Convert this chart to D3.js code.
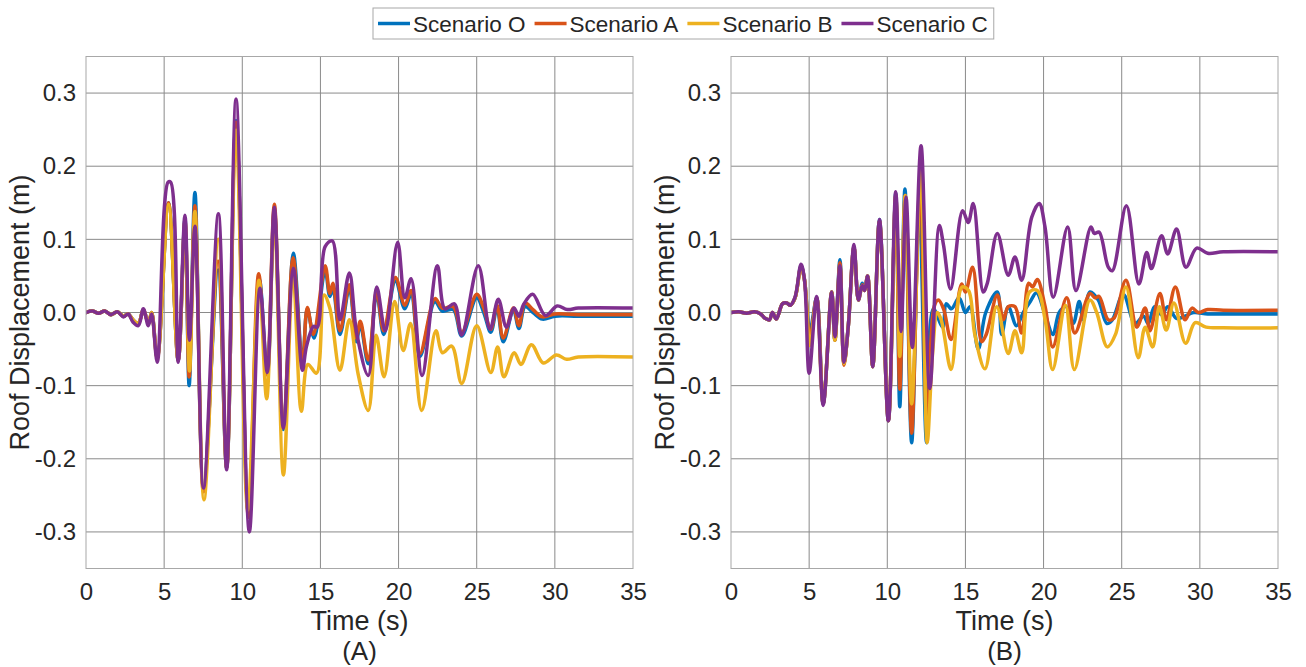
<!DOCTYPE html>
<html>
<head>
<meta charset="utf-8">
<script src="https://cdn.jsdelivr.net/npm/d3@7"></script>
<style>
  html, body { margin: 0; padding: 0; background: #ffffff; }
  svg { display: block; }
  text { font-family: "Liberation Sans", Arial, Helvetica, sans-serif; fill: #262626; }
</style>
</head>
<body>
<svg id="chart" width="1306" height="667"></svg>
<script>
// ---------- DATA (time s, roof displacement m) ----------
const seriesNames = ["Scenario O", "Scenario A", "Scenario B", "Scenario C"];
const seriesColors = ["#0072BD", "#D95319", "#EDB120", "#7E2F8E"];
const panelLabels = ["(A)", "(B)"];
const xTicks = [0, 5, 10, 15, 20, 25, 30, 35];
const yTicks = [-0.3, -0.2, -0.1, 0.0, 0.1, 0.2, 0.3];
const yTickLabels = ["-0.3", "-0.2", "-0.1", "0.0", "0.1", "0.2", "0.3"];

// Panel (A)
const panelA_O = [[0,0],[0.4,0.002],[0.8,-0.001],[1.2,0.002],[1.6,-0.003],[2.0,0.001],[2.4,-0.005],[2.7,-0.002],[3.0,-0.01],[3.35,-0.015],[3.67,0.004],[3.99,-0.015],[4.2,0.0],[4.56,-0.062],[5.28,0.15],[5.9,-0.066],[6.33,0.128],[6.6,-0.1],[6.97,0.164],[7.52,-0.24],[8.45,0.058],[9.0,-0.212],[9.6,0.262],[10.4,-0.275],[11.1,0.045],[11.6,-0.085],[12.05,0.14],[12.63,-0.16],[13.27,0.081],[13.85,-0.07],[14.16,0.005],[14.6,-0.035],[15.3,0.058],[15.6,0.022],[15.8,0.033],[16.25,-0.03],[16.85,0.033],[17.3,-0.04],[17.55,-0.016],[18.06,-0.07],[18.6,0.026],[19.05,-0.03],[19.8,0.043],[20.4,0.005],[20.8,0.025],[21.37,-0.06],[22.33,0.015],[22.8,0.002],[23.5,0.004],[24.04,-0.032],[25.0,0.02],[25.45,0.0],[25.9,-0.027],[26.3,0.006],[26.7,-0.04],[27.35,0.003],[27.7,-0.022],[28.1,0.008],[28.6,0.0],[29.2,-0.009],[30.0,-0.005],[31.5,-0.005],[35,-0.005]];
const panelA_A = [[0,0],[0.4,0.002],[0.8,-0.001],[1.2,0.002],[1.6,-0.003],[2.0,0.001],[2.4,-0.005],[2.7,-0.002],[3.0,-0.01],[3.35,-0.015],[3.67,0.004],[3.99,-0.015],[4.2,0.0],[4.56,-0.062],[5.28,0.15],[5.9,-0.066],[6.33,0.125],[6.6,-0.088],[6.97,0.146],[7.52,-0.245],[8.45,0.07],[9.0,-0.212],[9.6,0.26],[10.4,-0.28],[11.05,0.053],[11.58,-0.085],[12.05,0.148],[12.63,-0.157],[13.25,0.075],[13.85,-0.073],[14.16,0.007],[14.55,-0.03],[15.3,0.064],[15.6,0.026],[15.8,0.04],[16.25,-0.025],[16.85,0.038],[17.3,-0.035],[17.55,-0.012],[18.06,-0.065],[18.6,0.03],[19.05,-0.025],[19.8,0.048],[20.4,0.01],[20.8,0.03],[21.37,-0.056],[22.33,0.019],[22.8,0.006],[23.5,0.008],[24.04,-0.027],[25.0,0.025],[25.45,0.006],[25.9,-0.023],[26.3,0.01],[26.7,-0.035],[27.35,0.006],[27.7,-0.018],[28.1,0.013],[28.6,0.004],[29.2,-0.006],[30.0,-0.002],[31.5,-0.003],[35,-0.003]];
const panelA_B = [[0,0],[0.4,0.002],[0.8,-0.001],[1.2,0.002],[1.6,-0.003],[2.0,0.001],[2.4,-0.005],[2.7,-0.002],[3.0,-0.01],[3.35,-0.015],[3.67,0.004],[3.99,-0.015],[4.2,0.0],[4.56,-0.064],[5.28,0.148],[5.9,-0.066],[6.33,0.125],[6.62,-0.08],[6.97,0.138],[7.55,-0.256],[8.47,0.1],[9.0,-0.212],[9.6,0.249],[10.35,-0.27],[11.07,0.044],[11.56,-0.118],[12.05,0.13],[12.63,-0.222],[13.25,0.05],[13.78,-0.135],[14.2,-0.071],[14.75,-0.083],[15.23,0.024],[15.6,0.006],[16.25,-0.079],[16.85,-0.01],[17.42,-0.085],[18.06,-0.134],[18.56,-0.031],[19.07,-0.088],[19.75,0.015],[20.3,-0.052],[20.77,-0.015],[21.48,-0.134],[22.39,-0.025],[22.8,-0.055],[23.4,-0.046],[24.04,-0.097],[25.0,-0.018],[25.9,-0.082],[26.34,-0.047],[26.74,-0.088],[27.4,-0.055],[27.83,-0.071],[28.5,-0.044],[29.26,-0.069],[30.1,-0.058],[30.75,-0.064],[31.5,-0.061],[35,-0.061]];
const panelA_C = [[0,0],[0.4,0.002],[0.8,-0.001],[1.2,0.002],[1.6,-0.003],[2.0,0.001],[2.4,-0.006],[2.7,-0.002],[3.0,-0.013],[3.35,-0.018],[3.67,0.005],[3.99,-0.018],[4.2,-0.002],[4.56,-0.068],[5.25,0.178],[5.42,0.178],[5.9,-0.068],[6.33,0.133],[6.62,-0.038],[6.97,0.118],[7.52,-0.24],[8.47,0.135],[9.0,-0.215],[9.6,0.292],[10.45,-0.3],[11.13,0.033],[11.6,-0.082],[12.05,0.144],[12.63,-0.158],[13.27,0.06],[13.85,-0.079],[14.1,-0.047],[14.55,-0.019],[14.8,-0.02],[15.3,0.09],[15.76,0.098],[16.25,-0.01],[16.85,0.054],[17.32,-0.028],[18.06,-0.086],[18.6,0.035],[19.15,-0.025],[19.94,0.096],[20.4,0.02],[20.8,0.046],[21.5,-0.086],[22.48,0.064],[22.97,0.005],[23.57,0.012],[24.04,-0.031],[25.1,0.064],[25.85,-0.023],[26.38,0.018],[26.9,-0.02],[27.38,0.006],[27.7,-0.005],[28.0,0.011],[28.58,0.025],[29.4,-0.004],[30.15,0.009],[30.8,0.004],[31.5,0.006],[35,0.006]];

// Panel (B)
const panelB_O = [[0,0],[0.5,0.001],[1.0,-0.001],[1.5,0.001],[1.9,-0.002],[2.18,-0.008],[2.46,-0.01],[2.65,0.0],[2.9,-0.009],[3.3,0.012],[3.56,0.013],[3.8,0.01],[4.1,0.02],[4.48,0.064],[4.7,0.045],[5.05,-0.025],[5.48,0.02],[5.9,-0.125],[6.44,0.028],[6.65,-0.038],[6.97,0.072],[7.23,-0.07],[7.5,-0.02],[7.87,0.09],[8.15,0.017],[8.4,0.04],[8.55,0.03],[8.74,0.05],[9.07,-0.074],[9.5,0.127],[10.07,-0.148],[10.54,0.163],[10.8,-0.129],[11.13,0.169],[11.56,-0.178],[12.05,0.15],[12.52,-0.178],[12.94,0.005],[13.55,-0.02],[13.77,0.012],[14.1,0.005],[14.6,0.02],[15.0,0.0],[15.3,0.008],[15.82,-0.05],[16.3,0.0],[17.04,0.028],[17.32,-0.03],[17.74,0.008],[18.27,-0.018],[18.7,0.0],[19.15,0.015],[19.55,0.027],[20.06,0.0],[20.6,-0.03],[21.0,0.0],[21.45,0.008],[21.9,-0.015],[22.28,0.015],[22.55,-0.01],[22.97,0.028],[23.5,0.017],[24.05,-0.015],[24.4,-0.01],[25.1,0.025],[25.85,-0.015],[26.4,-0.005],[26.7,-0.015],[27.1,0.008],[27.55,-0.003],[27.95,0.008],[28.5,-0.008],[29.05,-0.005],[29.6,0.0],[30.5,-0.002],[31.5,-0.002],[35,-0.002]];
const panelB_A = [[0,0],[0.5,0.001],[1.0,-0.001],[1.5,0.001],[1.9,-0.002],[2.18,-0.008],[2.46,-0.01],[2.65,0.0],[2.9,-0.009],[3.3,0.012],[3.56,0.013],[3.8,0.01],[4.1,0.02],[4.48,0.063],[4.7,0.045],[5.05,-0.035],[5.48,0.02],[5.9,-0.125],[6.44,0.028],[6.65,-0.038],[6.97,0.068],[7.23,-0.072],[7.5,-0.02],[7.87,0.09],[8.15,0.017],[8.4,0.038],[8.55,0.03],[8.74,0.05],[9.07,-0.074],[9.5,0.125],[10.07,-0.148],[10.54,0.16],[10.8,-0.105],[11.15,0.16],[11.56,-0.165],[12.1,0.18],[12.55,-0.15],[13.0,0.008],[13.27,0.017],[13.6,0.005],[14.08,-0.037],[14.76,0.039],[15.0,0.028],[15.46,0.062],[16.04,-0.04],[16.33,-0.03],[17.04,0.024],[17.43,-0.01],[17.74,0.008],[18.17,0.008],[18.6,-0.028],[19.05,0.04],[19.3,0.035],[19.6,0.045],[20.1,0.008],[20.58,-0.047],[21.48,0.02],[22.0,-0.028],[22.97,0.026],[23.3,0.02],[23.55,0.022],[24.14,-0.01],[24.5,-0.008],[25.27,0.044],[25.96,-0.02],[26.5,0.006],[26.8,-0.025],[27.45,0.026],[27.85,-0.01],[28.43,0.035],[29.05,-0.01],[29.5,0.006],[29.9,0.0],[30.5,0.004],[31.5,0.003],[35,0.003]];
const panelB_B = [[0,0],[0.5,0.001],[1.0,-0.001],[1.5,0.001],[1.9,-0.002],[2.18,-0.008],[2.46,-0.01],[2.65,0.0],[2.9,-0.009],[3.3,0.012],[3.56,0.013],[3.8,0.01],[4.1,0.02],[4.48,0.062],[4.7,0.045],[5.05,-0.045],[5.48,0.02],[5.9,-0.124],[6.44,0.028],[6.65,-0.038],[6.97,0.062],[7.23,-0.07],[7.5,-0.02],[7.87,0.09],[8.15,0.017],[8.4,0.037],[8.55,0.03],[8.74,0.05],[9.07,-0.074],[9.5,0.125],[10.07,-0.145],[10.54,0.16],[10.8,-0.06],[11.15,0.16],[11.56,-0.125],[12.15,0.2],[12.55,-0.178],[12.9,-0.055],[13.2,0.0],[13.45,-0.01],[14.08,-0.078],[14.6,0.025],[14.8,0.035],[15.2,0.03],[15.6,-0.03],[16.25,-0.077],[17.0,0.008],[17.74,-0.056],[18.17,-0.025],[18.6,-0.055],[19.1,0.028],[19.6,0.03],[20.1,-0.01],[20.58,-0.078],[21.4,0.01],[21.97,-0.078],[22.97,0.017],[23.4,0.0],[24.08,-0.047],[24.6,-0.03],[25.27,0.035],[26.06,-0.062],[26.5,-0.02],[26.98,-0.047],[27.41,0.008],[27.85,-0.024],[28.34,0.013],[29.09,-0.042],[29.7,-0.014],[30.4,-0.02],[31.5,-0.021],[35,-0.021]];
const panelB_C = [[0,0],[0.5,0.001],[1.0,-0.001],[1.5,0.001],[1.9,-0.002],[2.18,-0.008],[2.46,-0.01],[2.65,0.0],[2.9,-0.009],[3.3,0.012],[3.56,0.013],[3.8,0.01],[4.1,0.021],[4.48,0.066],[4.7,0.045],[5.0,-0.083],[5.48,0.022],[5.9,-0.127],[6.44,0.028],[6.65,-0.033],[6.97,0.064],[7.23,-0.068],[7.5,-0.02],[7.87,0.093],[8.15,0.017],[8.4,0.037],[8.55,0.03],[8.74,0.05],[9.07,-0.074],[9.5,0.127],[10.07,-0.148],[10.54,0.165],[10.88,-0.026],[11.2,0.158],[11.6,-0.048],[12.16,0.228],[12.72,-0.104],[13.33,0.119],[13.6,0.092],[14.05,0.032],[14.82,0.139],[15.18,0.123],[15.5,0.149],[16.14,0.028],[16.4,0.04],[17.04,0.108],[17.74,0.051],[18.17,0.076],[18.6,0.044],[19.24,0.13],[19.72,0.149],[20.09,0.117],[20.62,0.021],[21.54,0.117],[22.07,0.03],[23.03,0.117],[23.25,0.108],[23.55,0.11],[24.14,0.062],[24.4,0.057],[25.3,0.146],[26.1,0.039],[26.6,0.082],[26.9,0.06],[27.55,0.105],[27.94,0.08],[28.51,0.114],[29.11,0.062],[29.8,0.088],[30.5,0.081],[31.5,0.083],[35,0.083]];

// ---------- LAYOUT ----------
const svg = d3.select("#chart");
const plotTop = 56.5, plotBottom = 568.5;
const panels = [
  { left: 86, right: 633, series: [panelA_O, panelA_A, panelA_B, panelA_C], label: panelLabels[0] },
  { left: 731, right: 1278, series: [panelB_O, panelB_A, panelB_B, panelB_C], label: panelLabels[1] }
];

const defs = svg.append("defs");

panels.forEach((p, pi) => {
  const x = d3.scaleLinear().domain([0, 35]).range([p.left, p.right]);
  const y = d3.scaleLinear().domain([-0.35, 0.35]).range([plotBottom, plotTop]);
  const g = svg.append("g");

  // grid
  g.append("g").selectAll("line").data(xTicks.slice(1, -1)).join("line")
    .attr("x1", d => x(d)).attr("x2", d => x(d))
    .attr("y1", plotTop).attr("y2", plotBottom)
    .attr("stroke", "#8a8a8a").attr("stroke-width", 1);
  g.append("g").selectAll("line").data(yTicks).join("line")
    .attr("x1", p.left).attr("x2", p.right)
    .attr("y1", d => y(d)).attr("y2", d => y(d))
    .attr("stroke", "#8a8a8a").attr("stroke-width", 1);

  // clip
  const cid = "clip" + pi;
  defs.append("clipPath").attr("id", cid).append("rect")
    .attr("x", p.left).attr("y", plotTop)
    .attr("width", p.right - p.left).attr("height", plotBottom - plotTop);

  const line = d3.line().x(d => x(d[0])).y(d => y(d[1])).curve(d3.curveCatmullRom.alpha(0.5));
  const lg = g.append("g").attr("clip-path", `url(#${cid})`);
  p.series.forEach((s, si) => {
    lg.append("path").datum(s)
      .attr("d", line)
      .attr("fill", "none")
      .attr("stroke", seriesColors[si])
      .attr("stroke-width", 3.5)
      .attr("stroke-linejoin", "round")
      .attr("stroke-linecap", "round");
  });

  // box
  g.append("rect").attr("x", p.left).attr("y", plotTop)
    .attr("width", p.right - p.left).attr("height", plotBottom - plotTop)
    .attr("fill", "none").attr("stroke", "#a8a8a8").attr("stroke-width", 1);

  // axes (tick labels via d3 axis, domain/ticks hidden)
  const xAxis = d3.axisBottom(x).tickValues(xTicks).tickSize(0).tickPadding(14).tickFormat(d3.format("d"));
  const xa = g.append("g").attr("transform", `translate(0,${plotBottom})`).call(xAxis);
  xa.select(".domain").remove();
  xa.selectAll("text").attr("font-size", 24).attr("font-family", "Liberation Sans, Arial, sans-serif").attr("fill", "#262626");

  const yAxis = d3.axisLeft(y).tickValues(yTicks).tickSize(0).tickPadding(10)
    .tickFormat((d, i) => yTickLabels[i]);
  const ya = g.append("g").attr("transform", `translate(${p.left},0)`).call(yAxis);
  ya.select(".domain").remove();
  ya.selectAll("text").attr("font-size", 24).attr("font-family", "Liberation Sans, Arial, sans-serif").attr("fill", "#262626");

  // titles
  const cx = (p.left + p.right) / 2;
  g.append("text").attr("x", cx).attr("y", 630).attr("text-anchor", "middle")
    .attr("font-size", 27).text("Time (s)");
  g.append("text").attr("x", cx).attr("y", 660).attr("text-anchor", "middle")
    .attr("font-size", 26).text(p.label);
  g.append("text")
    .attr("transform", `translate(${p.left - 57},${(plotTop + plotBottom) / 2}) rotate(-90)`)
    .attr("text-anchor", "middle").attr("font-size", 27)
    .text("Roof Displacement (m)");
});

// ---------- LEGEND ----------
const legend = svg.append("g");
const legBox = legend.append("rect").attr("x", 373).attr("y", 8).attr("height", 31)
  .attr("fill", "#fff").attr("stroke", "#a8a8a8").attr("stroke-width", 1);
let lx = 378;
seriesNames.forEach((name, i) => {
  legend.append("line").attr("x1", lx).attr("x2", lx + 32).attr("y1", 23.5).attr("y2", 23.5)
    .attr("stroke", seriesColors[i]).attr("stroke-width", 3.5);
  const t = legend.append("text").attr("x", lx + 35).attr("y", 31.5).attr("font-size", 22.5).text(name);
  lx += 35 + t.node().getComputedTextLength() + 9;
});
legBox.attr("width", lx - 373 - 3);
</script>
</body>
</html>
